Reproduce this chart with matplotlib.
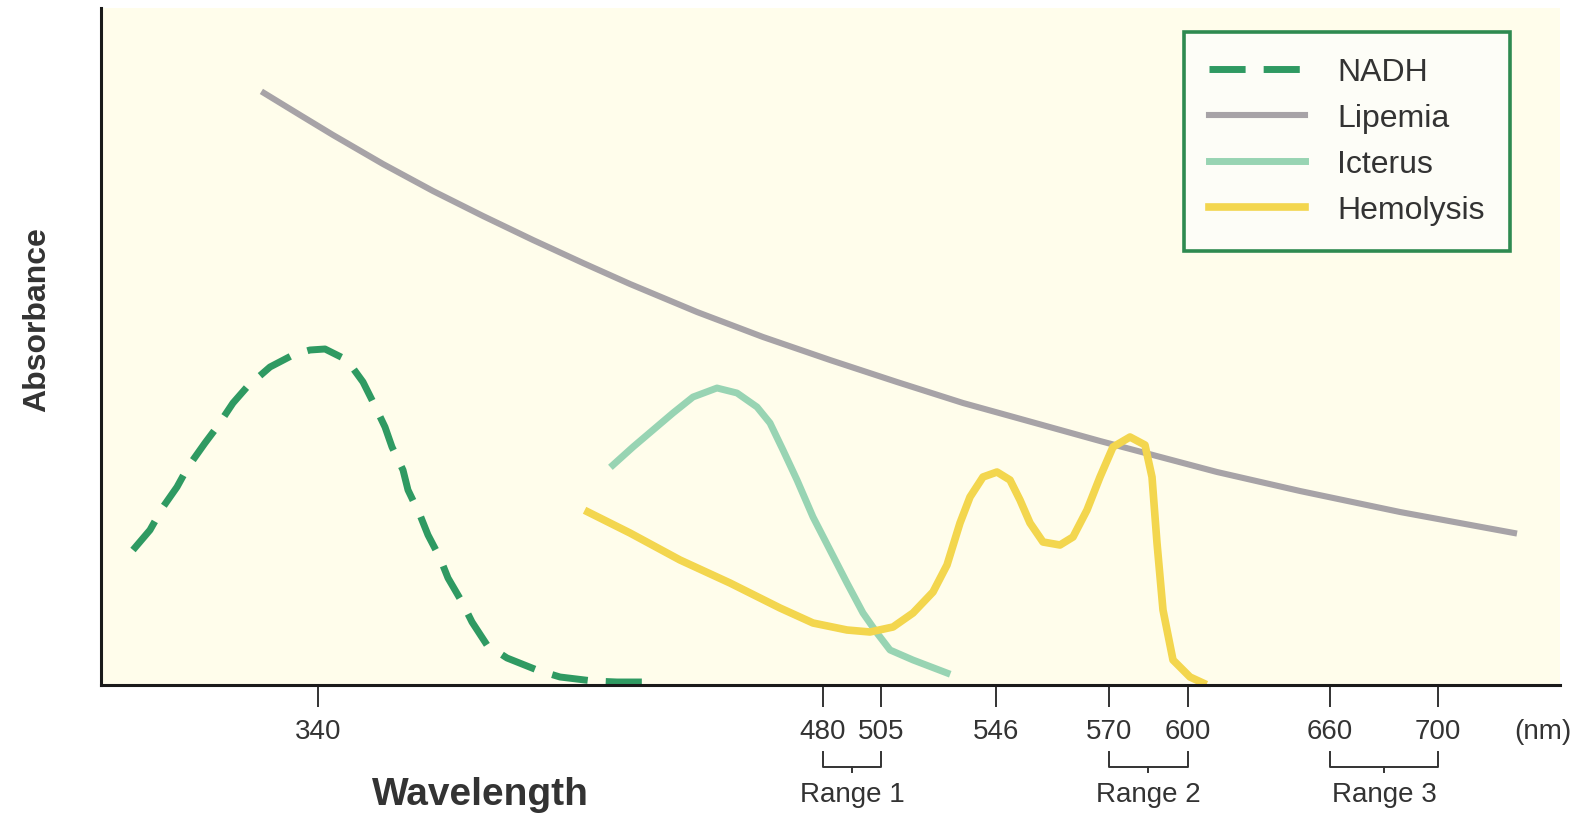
import matplotlib
matplotlib.use("Agg")
import matplotlib.pyplot as plt

# x is a schematic position along the wavelength axis (the drawing is not linear in nm),
# y is absorbance in arbitrary units (0 = baseline)
nadh_x = [133, 150, 163, 177, 188, 205, 217, 233, 247, 270, 293, 310, 325, 347, 363, 373, 385, 392,
          403, 408, 420, 428, 440, 448, 462, 472, 487, 507, 537, 560, 593, 617, 650]
nadh_y = [135, 155, 178, 198, 218, 242, 258, 282, 298, 318, 330, 335, 336, 325, 303, 283, 258, 238,
          215, 195, 170, 150, 127, 107, 83, 63, 40, 27, 15, 8, 4, 3, 3]

lipemia_x = [264, 300, 333, 383, 433, 483, 533, 583, 630, 697, 763, 830, 897, 963, 1010, 1100, 1217, 1300, 1400, 1514]
lipemia_y = [592, 570, 550, 521, 494, 469, 445, 422, 401, 373, 348, 325, 303, 282, 269, 244, 213, 194, 173, 152]

icterus_x = [613, 633, 653, 673, 693, 717, 737, 757, 770, 783, 797, 813, 830, 847, 863, 877, 890, 913, 947]
icterus_y = [220, 238, 255, 272, 288, 297, 292, 278, 262, 235, 205, 168, 135, 102, 72, 52, 35, 25, 12]

hemo_x = [588, 630, 680, 730, 780, 813, 847, 870, 893, 913, 933, 947, 960, 970, 983, 997, 1010,
          1020, 1030, 1043, 1060, 1073, 1087, 1100, 1113, 1130, 1145, 1152, 1157, 1163, 1173, 1190, 1203]
hemo_y = [173, 152, 125, 102, 77, 62, 55, 53, 58, 72, 93, 120, 162, 188, 208, 213, 205,
          185, 162, 143, 140, 148, 175, 208, 238, 248, 240, 208, 142, 75, 25, 8, 2]

tick_pos = [318, 823, 881, 996, 1109, 1188, 1330, 1438]
tick_labels = ['340', '480', '505', '546', '570', '600', '660', '700']
range_pos = [(823, 881), (1109, 1188), (1330, 1438)]
range_labels = ['Range 1', 'Range 2', 'Range 3']

plt.rcParams['font.family'] = ['Liberation Sans', 'DejaVu Sans']

W, H = 1583, 815
fig = plt.figure(figsize=(W / 100, H / 100), dpi=100, facecolor='white')
ax = fig.add_axes([101 / W, 130 / H, 1459 / W, 677 / H])
ax.set_facecolor('#fffdeb')

ax.plot(nadh_x, nadh_y, color='#2f9a62', lw=5, dashes=(5.2, 2.6), label='NADH', dash_capstyle='butt')
ax.plot(lipemia_x, lipemia_y, color='#a7a3a7', lw=4.4, label='Lipemia', solid_joinstyle='round')
ax.plot(icterus_x, icterus_y, color='#98d4b3', lw=5, label='Icterus', solid_joinstyle='round')
ax.plot(hemo_x, hemo_y, color='#f3d64e', lw=5.5, label='Hemolysis', solid_joinstyle='round')

ax.set_xlim(101, 1560)
ax.set_ylim(0, 677)
for s in ['top', 'right']:
    ax.spines[s].set_visible(False)
for s in ['left', 'bottom']:
    ax.spines[s].set_linewidth(2.2)
    ax.spines[s].set_color('#1a1a1a')
ax.set_yticks([])
ax.set_xticks(tick_pos, tick_labels)
ax.tick_params(axis='x', length=16, width=1.4, pad=8.5, labelsize=20, labelcolor='#333333', color='#333333')

# helper: y below the axis in pixels -> axes fraction
def below(px):
    return -px / 677

trans = ax.get_xaxis_transform()
ax.text(1543, below(54), '(nm)', transform=trans, ha='center', va='baseline', fontsize=20, color='#333333')

# bracket under each pair of ticks
for (a, b), lab in zip(range_pos, range_labels):
    y_top = below(67)
    y_bot = below(82)
    ax.plot([a, a, b, b], [y_top, y_bot, y_bot, y_top], transform=trans, color='#333333', lw=1.4, clip_on=False)
    m = (a + b) / 2
    ax.plot([m, m], [y_bot, y_bot - 5 / 677], transform=trans, color='#333333', lw=1.4, clip_on=False)
    ax.text(m, below(117), lab, transform=trans, ha='center', va='baseline', fontsize=20, color='#333333')

ax.text(480, below(120), 'Wavelength', transform=trans, ha='center', va='baseline',
        fontsize=28, fontweight='bold', color='#333333')
ax.text(-64 / 1459, 0.54, 'Absorbance', transform=ax.transAxes, rotation=90, ha='center', va='center',
        fontsize=23, fontweight='bold', color='#333333', family=['Liberation Sans Narrow', 'Liberation Sans'])

leg = ax.legend(loc='upper right', bbox_to_anchor=(0.9657, 0.9645), borderaxespad=0, fontsize=23,
                handlelength=3.0, handletextpad=1.0, labelspacing=0.5, borderpad=0.8,
                fancybox=False, framealpha=1, facecolor='#fdfdf7', edgecolor='#2e8a50')
leg.get_frame().set_linewidth(2.6)
for t in leg.get_texts():
    t.set_color('#333333')

fig.savefig('out.png', dpi=100, facecolor='white')
